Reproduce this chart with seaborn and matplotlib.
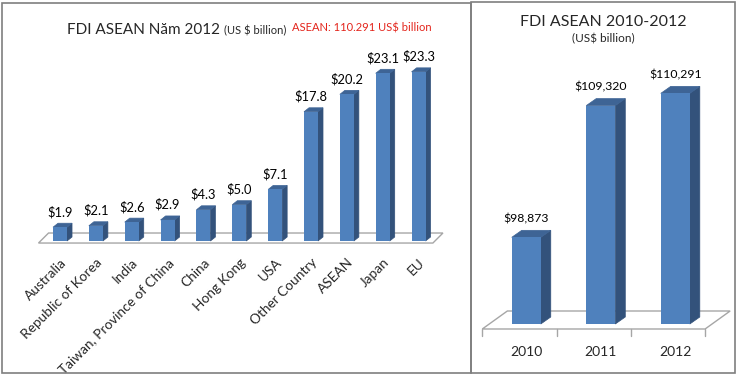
import matplotlib
matplotlib.use("Agg")
import matplotlib.pyplot as plt
from matplotlib.patches import Polygon, Rectangle
import seaborn as sns
import pandas as pd

# ---------------- data ----------------
countries = ["Australia", "Republic of Korea", "India", "Taiwan, Province of China",
             "China", "Hong Kong", "USA", "Other Country", "ASEAN", "Japan", "EU"]
fdi_2012 = [1.9, 2.1, 2.6, 2.9, 4.3, 5.0, 7.1, 17.8, 20.2, 23.1, 23.3]
fdi_2012_labels = ["$1.9", "$2.1", "$2.6", "$2.9", "$4.3", "$5.0", "$7.1",
                   "$17.8", "$20.2", "$23.1", "$23.3"]

years = ["2010", "2011", "2012"]
fdi_years = [98873, 109320, 110291]
fdi_years_labels = ["$98,873", "$109,320", "$110,291"]

left_title = "FDI ASEAN Năm 2012"
left_unit = "(US $ billion)"
left_note = "ASEAN: 110.291 US$ billion"
right_title = "FDI ASEAN 2010-2012"
right_unit = "(US$ billion)"

# ---------------- style ----------------
sns.set_theme(style="white")
plt.rcParams["font.family"] = ["Lato", "DejaVu Sans"]

FRONT = "#4F81BD"
SIDE = "#33527B"
TOP = "#3E6495"
W, H = 739, 377
fig = plt.figure(figsize=(W / 100, H / 100), dpi=100)
fig.patch.set_facecolor("white")


def px(x0, y0, x1, y1):
    """pixel box (top-left origin) -> figure rect"""
    return [x0 / W, 1 - y1 / H, (x1 - x0) / W, (y1 - y0) / H]


# panel borders
for (x0, y0, x1, y1) in [(2, 3, 471, 373), (471, 2, 735, 373)]:
    fig.patches.append(Rectangle((x0 / W, 1 - y1 / H), (x1 - x0) / W, (y1 - y0) / H,
                                 transform=fig.transFigure, fill=False,
                                 edgecolor="#7F7F7F", linewidth=1.2, zorder=0))


def draw_3d(ax, dx, dy, floor, ticks=None, tick_len=0):
    """Add side/top faces derived from the seaborn bar patches, plus a floor."""
    ax.add_patch(Polygon(floor, closed=True, facecolor="white", edgecolor="#A6A6A6",
                         linewidth=1.0, clip_on=False, zorder=0.5))
    if ticks is not None:
        for t in ticks:
            ax.plot([t, t], [floor[0][1], floor[0][1] - tick_len], color="#A6A6A6",
                    lw=1.0, clip_on=False, zorder=0.5)
    for p in list(ax.patches):
        if not isinstance(p, Rectangle):
            continue
        x, w, h = p.get_x(), p.get_width(), p.get_height()
        y0 = p.get_y()
        top = y0 + h
        side = [(x + w, y0), (x + w + dx, y0 + dy), (x + w + dx, top + dy), (x + w, top)]
        topf = [(x, top), (x + w, top), (x + w + dx, top + dy), (x + dx, top + dy)]
        ax.add_patch(Polygon(side, closed=True, facecolor=SIDE, edgecolor=SIDE,
                             lw=0.5, clip_on=False, zorder=2))
        ax.add_patch(Polygon(topf, closed=True, facecolor=TOP, edgecolor=TOP,
                             lw=0.5, clip_on=False, zorder=2))
        p.set_zorder(3)
        p.set_clip_on(False)


# ---------------- left chart ----------------
axL = fig.add_axes(px(38.5, 59.5, 432.9, 241))
dfL = pd.DataFrame({"country": countries, "value": fdi_2012})
sns.barplot(data=dfL, x="country", y="value", color=FRONT, saturation=1,
            width=0.39, ax=axL, edgecolor="none")
axL.set_xlim(-0.6, 10.4)
axL.set_ylim(0, 25)
draw_3d(axL, dx=0.14, dy=0.55,
        floor=[(-0.6, -0.28), (10.4, -0.28), (10.68, 1.1), (-0.32, 1.1)])
for i, (v, lab) in enumerate(zip(fdi_2012, fdi_2012_labels)):
    axL.annotate(lab, (i, v), xytext=(0, 6.5), textcoords="offset points",
                 ha="center", va="bottom", fontsize=9.3, color="black")
axL.set_xlabel("")
axL.set_ylabel("")
axL.set_yticks([])
axL.set_xticks(range(len(countries)))
axL.set_xticklabels(countries, rotation=45, ha="right", rotation_mode="anchor",
                    fontsize=9.8)
axL.tick_params(axis="x", length=0, pad=11)
for s in axL.spines.values():
    s.set_visible(False)
axL.patch.set_alpha(0)

t1 = fig.text(67 / W, 1 - 30 / H, left_title, fontsize=11, va="center", ha="left")
fig.canvas.draw()
bb = t1.get_window_extent(fig.canvas.get_renderer())
fig.text((bb.x1 + 4) / W, 1 - 30.5 / H, left_unit, fontsize=8, va="center", ha="left")
fig.text(292 / W, 1 - 28 / H, left_note, fontsize=8, va="center", ha="left",
         color="#E3241B")

# ---------------- right chart ----------------
axR = fig.add_axes(px(482.3, 71.8, 705.1, 324))
dfR = pd.DataFrame({"year": years, "value": fdi_years})
sns.barplot(data=dfR, x="year", y="value", color=FRONT, saturation=1,
            width=0.39, ax=axR, edgecolor="none")
axR.set_xlim(-0.59, 2.40)
axR.set_ylim(92000, 112000)
# seaborn bars start at 0 -> start them at the axis minimum instead
for p in axR.patches:
    if isinstance(p, Rectangle):
        top = p.get_y() + p.get_height()
        p.set_y(92000)
        p.set_height(top - 92000)
draw_3d(axR, dx=0.134, dy=555,
        floor=[(-0.59, 91604), (2.40, 91604), (2.736, 93031), (-0.254, 93031)],
        ticks=[-0.59, 0.41, 1.41, 2.40], tick_len=560)
for i, (v, lab) in enumerate(zip(fdi_years, fdi_years_labels)):
    axR.annotate(lab, (i, v), xytext=(0, 13.5), textcoords="offset points",
                 ha="center", va="center", fontsize=8.8, color="black")
axR.set_xlabel("")
axR.set_ylabel("")
axR.set_yticks([])
axR.set_xticks(range(len(years)))
axR.set_xticklabels(years, fontsize=10)
axR.tick_params(axis="x", length=0, pad=16)
for s in axR.spines.values():
    s.set_visible(False)
axR.patch.set_alpha(0)

fig.text(603 / W, 1 - 22 / H, right_title, fontsize=11.5, va="center", ha="center")
fig.text(603 / W, 1 - 39 / H, right_unit, fontsize=8.5, va="center", ha="center")

fig.savefig("out.png", dpi=100, facecolor="white")
